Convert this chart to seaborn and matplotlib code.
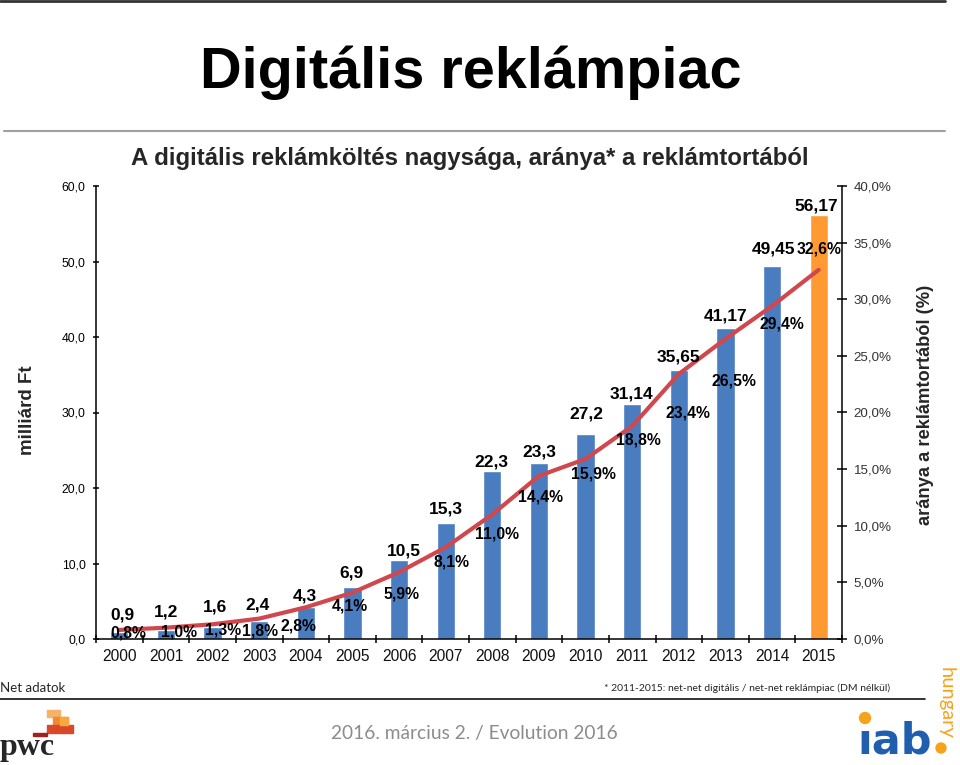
import matplotlib
matplotlib.use("Agg")
import matplotlib.pyplot as plt
import seaborn as sns
import numpy as np
import pandas as pd
from matplotlib.lines import Line2D
from matplotlib.patches import Rectangle, Ellipse
from matplotlib.ticker import FuncFormatter, FixedLocator

# ---------------- data ----------------
years = ["2000", "2001", "2002", "2003", "2004", "2005", "2006", "2007",
         "2008", "2009", "2010", "2011", "2012", "2013", "2014", "2015"]
spend_bn_huf = [0.9, 1.2, 1.6, 2.4, 4.3, 6.9, 10.5, 15.3,
                22.3, 23.3, 27.2, 31.14, 35.65, 41.17, 49.45, 56.17]
share_pct = [0.8, 1.0, 1.3, 1.8, 2.8, 4.1, 5.9, 8.1,
             11.0, 14.4, 15.9, 18.8, 23.4, 26.5, 29.4, 32.6]
left_ticks = [0, 10, 20, 30, 40, 50, 60]
right_ticks = [0, 5, 10, 15, 20, 25, 30, 35, 40]

slide_title = "Digitális reklámpiac"
chart_title = "A digitális reklámköltés nagysága, aránya* a reklámtortából"
left_label = "milliárd Ft"
right_label = "aránya a reklámtortából (%)"
note_left = "Net adatok"
footnote = "* 2011-2015: net-net digitális / net-net reklámpiac (DM nélkül)"
footer = "2016. március 2. / Evolution 2016"

# label placement offsets (pixels) - styling only
val_dx = [3, 0, 2, -2, -1, -1, 5, 0, -1, 0, 1, -1, 0, 0, 1, -2]
val_dy = [17, 18, 20, 16, 11, 14, 9, 14, 9, 11, 20, 10, 13, 12, 17, 9]
pct_dx = [9, 13, 11, 1, -7, -3, 2, 6, 5, 2, 8, 6, 9, 9, 10, 0]
pct_dy = [-3, -4, -6, -12, -19, -13, -22, -15, -20, -21, -15, -14, -39, -42, -18, 21]

BLUE = "#4A7DC0"
ORANGE = "#FF9A33"
RED = "#D0484E"

sns.set_theme(style="white")
plt.rcParams["font.family"] = ["Liberation Sans", "DejaVu Sans"]

W, H = 960, 765
fig = plt.figure(figsize=(9.6, 7.65), dpi=100)

def fx(x):
    return x / W

def fy(y):
    return 1 - y / H

ax = fig.add_axes([fx(96), fy(639), (842 - 96) / W, (639 - 186) / H])

df = pd.DataFrame({"year": years, "spend": spend_bn_huf})
colors = [BLUE] * (len(years) - 1) + [ORANGE]
sns.barplot(data=df, x="year", y="spend", hue="year", palette=colors,
            legend=False, dodge=False, width=0.39, saturation=1, ax=ax)
ax.set_xlim(-0.5, len(years) - 0.5)
ax.set_ylim(0, 60)
ax.set_xlabel("")
ax.set_ylabel("")
ax.set_yticks(left_ticks)
ax.yaxis.set_major_formatter(FuncFormatter(lambda v, p: f"{v:.1f}".replace(".", ",")))
ax.tick_params(axis="y", direction="inout", length=5, width=1.1, colors="black",
               labelsize=8.8, pad=5, left=True)
ax.tick_params(axis="x", length=0, labelsize=11.2, pad=7, labelcolor="#111111")
ax.xaxis.set_minor_locator(FixedLocator(np.arange(-0.5, len(years), 1.0)))
ax.tick_params(axis="x", which="minor", direction="inout", length=6, width=1.1,
               color="black", bottom=True)
for s in ["top", "right"]:
    ax.spines[s].set_visible(False)
for s in ["left", "bottom"]:
    ax.spines[s].set_color("black")
    ax.spines[s].set_linewidth(1.1)

ax2 = ax.twinx()
pos = np.arange(len(years))
sns.lineplot(x=pos, y=share_pct, ax=ax2, color=RED, linewidth=3.0,
             sort=False, solid_joinstyle="round", solid_capstyle="round")
ax2.set_ylim(0, 40)
ax2.set_xlim(-0.5, len(years) - 0.5)
ax2.set_ylabel("")
ax2.set_yticks(right_ticks)
ax2.yaxis.set_major_formatter(FuncFormatter(lambda v, p: f"{v:.1f}%".replace(".", ",")))
ax2.tick_params(axis="y", direction="inout", length=7, width=1.1, colors="black",
                labelsize=9.6, pad=5, right=True, labelcolor="#333333")
ax2.grid(False)
ax.grid(False)
for s in ["top", "left", "bottom"]:
    ax2.spines[s].set_visible(False)
ax2.spines["right"].set_color("black")
ax2.spines["right"].set_linewidth(1.1)

for i, v in enumerate(spend_bn_huf):
    ax2.annotate(str(v).replace(".", ","), xy=(i, v), xycoords=ax.transData,
                 xytext=(val_dx[i], val_dy[i]), textcoords="offset pixels",
                 ha="center", va="center", fontsize=12.5, fontweight="bold",
                 color="black", zorder=5)
for i, p in enumerate(share_pct):
    ax2.annotate(f"{p:.1f}%".replace(".", ","), xy=(i, p), xycoords="data",
                 xytext=(pct_dx[i], pct_dy[i]), textcoords="offset pixels",
                 ha="center", va="center", fontsize=11.3, fontweight="bold",
                 color="black", zorder=5)

# axis labels
fig.text(fx(28), fy(410), left_label, rotation=90, ha="center", va="center",
         fontsize=13.5, fontweight="bold")
fig.text(fx(925), fy(405), right_label, rotation=90, ha="center", va="center",
         fontsize=13.2, fontweight="bold")

# titles
fig.text(fx(470), fy(158), chart_title, ha="center", va="center",
         fontsize=17.3, fontweight="bold")
fig.text(fx(471), fy(88), slide_title, ha="center", va="baseline",
         fontsize=41.5, fontweight="bold", color="black")

# rules
fig.add_artist(Line2D([0, fx(945)], [fy(1), fy(1)], color="#333333", lw=2))
fig.add_artist(Line2D([fx(4), fx(945)], [fy(131), fy(131)], color="#A0A0A0", lw=1.5))
fig.add_artist(Line2D([0, fx(925)], [fy(699), fy(699)], color="#111111", lw=1.2))

# notes
fig.text(fx(0), fy(688), note_left, ha="left", va="center", fontsize=9.5,
         family=["Lato", "DejaVu Sans"])
fig.text(fx(890), fy(688), footnote, ha="right", va="center", fontsize=7.5,
         family=["Lato", "DejaVu Sans"])
fig.text(fx(474), fy(734), footer, ha="center", va="center", fontsize=13.8,
         color="#8C8C8C", family=["Lato", "DejaVu Sans"])

# pwc logo
for (x0, y0, w, h, c) in [(47, 710, 13, 7, "#F5B26B"), (53, 717, 15, 8, "#F0892F"),
                          (47, 725, 26, 8, "#D9482B"), (33, 733, 14, 3, "#A32020"),
                          (60, 717, 8, 8, "#F6A940")]:
    fig.add_artist(Rectangle((fx(x0), fy(y0 + h)), w / W, h / H, color=c,
                             transform=fig.transFigure))
fig.text(fx(0), fy(755), "pwc", ha="left", va="baseline", fontsize=23,
         fontweight="bold", family=["Liberation Serif", "DejaVu Serif"])

# iab hungary logo
fig.text(fx(857), fy(754), "\u0131ab", ha="left", va="baseline", fontsize=31,
         fontweight="bold", color="#1F5FAE", family=["DejaVu Sans"])
fig.add_artist(Ellipse((fx(865), fy(718)), 11 / W, 11 / H, color="#F7A21B",
                       transform=fig.transFigure))
fig.add_artist(Ellipse((fx(941), fy(748)), 10 / W, 10 / H, color="#F7A21B",
                       transform=fig.transFigure))
fig.text(fx(946), fy(703), "hungary", rotation=-90, ha="center", va="center",
         fontsize=14.5, color="#F7A21B", family=["Lato", "DejaVu Sans"])

fig.savefig("out.png", dpi=100)
